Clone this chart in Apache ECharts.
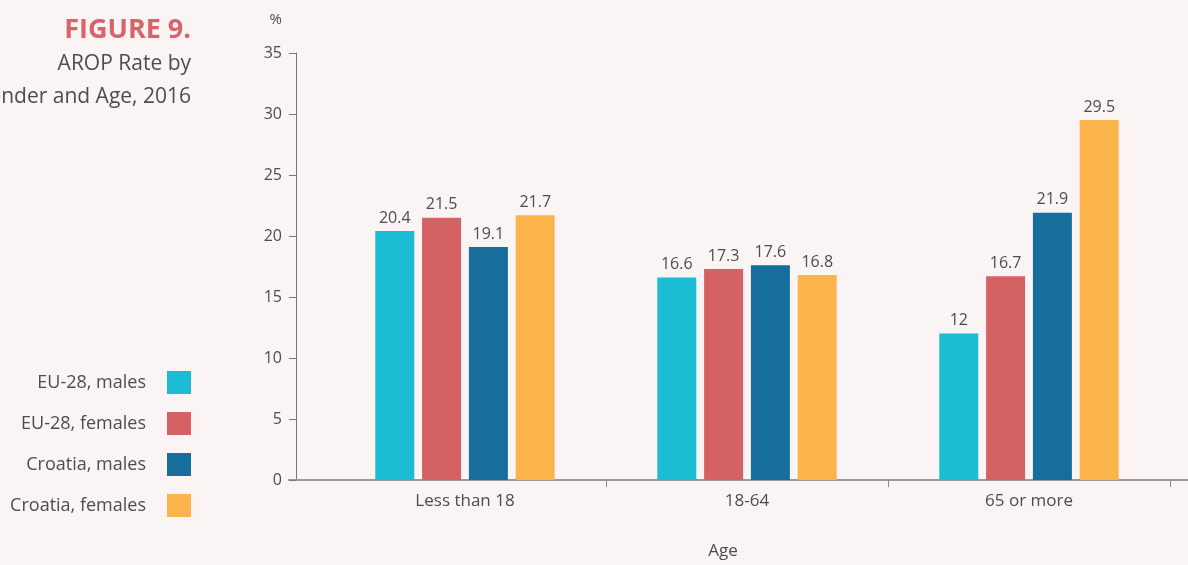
<!DOCTYPE html>
<html><head><meta charset="utf-8">
<script src="https://cdn.jsdelivr.net/npm/echarts@6/dist/echarts.min.js"></script>
<style>html,body{margin:0;padding:0;background:#FAF4F4;}#c{width:1188px;height:565px;}</style>
</head><body><div id="c"></div>
<script>
const categories = ['Less than 18', '18-64', '65 or more'];
const seriesNames = ['EU-28, males', 'EU-28, females', 'Croatia, males', 'Croatia, females'];
const eu28Males = [20.4, 16.6, 12];
const eu28Females = [21.5, 17.3, 16.7];
const croatiaMales = [19.1, 17.6, 21.9];
const croatiaFemales = [21.7, 16.8, 29.5];
const yTicks = { min: 0, max: 35, interval: 5 };
const colors = ['#1BBCD4', '#D46264', '#176E9C', '#FBB44C'];
const seriesData = [eu28Males, eu28Females, croatiaMales, croatiaFemales];

const FONT = '"Open Sans", "Noto Sans", sans-serif';
const TXT = '#4d4d4d';
const chart = echarts.init(document.getElementById('c'), null, { renderer: 'canvas' });
chart.setOption({
  backgroundColor: '#FAF4F4',
  animation: false,
  textStyle: { fontFamily: FONT },
  graphic: [
    { type: 'text', x: 191, y: 17, style: { text: 'FIGURE 9.', align: 'right', verticalAlign: 'top',
      font: 'bold 27px "Open Sans", sans-serif', fill: '#D9636A' } },
    { type: 'text', x: 191, y: 48, style: { text: 'AROP Rate by\nGender and Age, 2016', align: 'right', verticalAlign: 'top',
      font: '21px "Open Sans", sans-serif', fill: TXT, lineHeight: 33 } }
  ],
  legend: {
    orient: 'vertical', right: 992, top: 366, align: 'right',
    itemWidth: 24, itemHeight: 23, itemGap: 18, icon: 'rect',
    data: seriesNames,
    textStyle: { fontFamily: FONT, fontSize: 18, color: TXT, padding: [0, 16, 0, 0] }
  },
  grid: [
    { left: 324, right: 18, top: 53, bottom: 85, containLabel: false },
    { left: 289, right: 0, top: 53, bottom: 85, containLabel: false }
  ],
  xAxis: [
    { type: 'category', gridIndex: 0, data: categories,
      axisLine: { show: false },
      axisTick: { show: true, length: 7, lineStyle: { color: '#8a8a8a' }, interval: function (i) { return i !== 0; } },
      axisLabel: { fontFamily: FONT, fontSize: 17, color: TXT, margin: 13 },
      name: 'Age', nameLocation: 'middle', nameGap: 63,
      nameTextStyle: { fontFamily: FONT, fontSize: 17, color: TXT, padding: [0, 48, 0, 0] } },
    { type: 'value', gridIndex: 1, min: 0, max: 1,
      axisLine: { show: true, onZero: false, lineStyle: { color: '#9a9a9a', width: 2 } },
      axisTick: { show: false }, axisLabel: { show: false }, splitLine: { show: false } }
  ],
  yAxis: [
    { type: 'value', gridIndex: 0, min: yTicks.min, max: yTicks.max, interval: yTicks.interval, offset: 28,
      axisLine: { show: true, lineStyle: { color: '#777' } },
      axisTick: { show: true, length: 7, lineStyle: { color: '#777' } },
      axisLabel: { fontFamily: FONT, fontSize: 16, color: TXT, margin: 14 },
      splitLine: { show: false },
      name: '%', nameLocation: 'end', nameGap: 26,
      nameTextStyle: { fontFamily: FONT, fontSize: 15, color: TXT, align: 'right', padding: [0, 14, 0, 0] } },
    { type: 'value', gridIndex: 1, show: false, min: 0, max: 1 }
  ],
  series: seriesData.map((d, i) => ({
    name: seriesNames[i], type: 'bar', xAxisIndex: 0, yAxisIndex: 0,
    data: d, barWidth: 39, barGap: '20%',
    itemStyle: { color: colors[i] },
    label: { show: true, position: 'top', distance: 5, fontFamily: FONT, fontSize: 16, color: TXT }
  }))
});
</script></body></html>
